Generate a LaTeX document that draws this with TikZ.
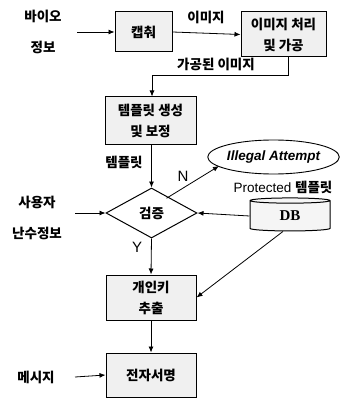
\documentclass[tikz,border=0pt]{standalone}
\usepackage{fontspec}
\setmainfont{Liberation Sans}
\newfontfamily\kr{Noto Sans CJK KR}
\newfontfamily\serifbf{Liberation Serif}
\usetikzlibrary{arrows.meta,shapes.geometric}
\tikzset{
  box/.style={draw, line width=1pt, fill=gray!12, align=center, font=\kr\bfseries\fontsize{13.5}{21}\selectfont},
  lbl/.style={font=\kr\bfseries\fontsize{13.5}{15}\selectfont, inner sep=0pt},
  arr/.style={-{Latex[length=6pt,width=5pt]}, line width=0.8pt},
  ln/.style={line width=0.8pt}
}
\begin{document}
\begin{tikzpicture}[x=1pt,y=-1pt]
\useasboundingbox (0,0) rectangle (349,398);
% boxes
\node[box, minimum width=57pt, minimum height=40pt] (cap) at (143.5,32) {캡춰};
\node[box, minimum width=85pt, minimum height=45pt] (proc) at (283.5,34.5) {이미지 처리\\및 가공};
\node[box, minimum width=91pt, minimum height=48pt] (tmpl) at (150.5,121) {템플릿 생성\\및 보정};
\node[diamond, draw, line width=1pt, fill=white, minimum width=91pt, minimum height=50pt, inner sep=0pt, aspect=1.8, font=\kr\bfseries\fontsize{13.5}{15}\selectfont] (ver) at (151.5,213) {검증};
\node[ellipse, draw, line width=0.9pt, fill=white, minimum width=123pt, minimum height=34pt, inner sep=0pt, font=\bfseries\itshape\fontsize{13.5}{15}\selectfont] (ill) at (273.5,157) {Illegal Attempt};
\node[cylinder, shape border rotate=90, draw, line width=1pt, fill=gray!8, minimum width=80pt, minimum height=33pt, aspect=0.25, inner sep=0pt, font=\serifbf\bfseries\fontsize{15}{17}\selectfont] (db) at (290,216) {DB};
\node[box, minimum width=90pt, minimum height=45pt] (key) at (151,297.5) {개인키\\추출};
\node[box, minimum width=90pt, minimum height=44pt] (sig) at (151,375) {전자서명};
% labels
\node[lbl] (bio1) at (43,16) {바이오};
\node[lbl] (bio2) at (43,47) {정보};
\coordinate (bioin) at (77,32);
\node[lbl] (imglbl) at (206,17) {이미지};
\node[lbl] (proclbl) at (216,64) {가공된 이미지};
\node[lbl] (tlbl) at (124,162) {템플릿};
\node[font=\fontsize{15}{17}\selectfont, inner sep=0pt] (nlbl) at (183,176) {N};
\node[font=\fontsize{13.5}{15}\selectfont, inner sep=0pt] (plbl) at (283,187) {Protected \kr\bfseries 템플릿};
\node[lbl] (u1) at (37,202) {사용자};
\node[lbl] (u2) at (37,233) {난수정보};
\coordinate (uin) at (75,213);
\node[font=\fontsize{15}{17}\selectfont, inner sep=0pt] (ylbl) at (137,247) {Y};
\node[lbl] (msg) at (36,377) {메시지};
\coordinate (msgin) at (75,377);
% connectors
\draw[arr] (bioin) -- (cap.west);
\draw[arr] (cap.east) -- (proc.west);
\draw[arr] (proc.south -| 288,0) |- (152,75) -- (tmpl.north -| 152,0);
\draw[arr] (tmpl.south -| ver.north) -- (ver.north);
\draw[arr] (ver.north east) ++(-8,-2) coordinate (ns) -- (219,166);
\draw[arr] (uin) -- (ver.west);
\draw[arr] (db.west) -- (ver.east);
\draw[arr] (ver.south) -- (key.north);
\draw[arr] (db.south) ++(-7,0) -- (key.east);
\draw[arr] (key.south) -- (sig.north);
\draw[arr] (msgin) -- (sig.west);
\end{tikzpicture}
\end{document}
